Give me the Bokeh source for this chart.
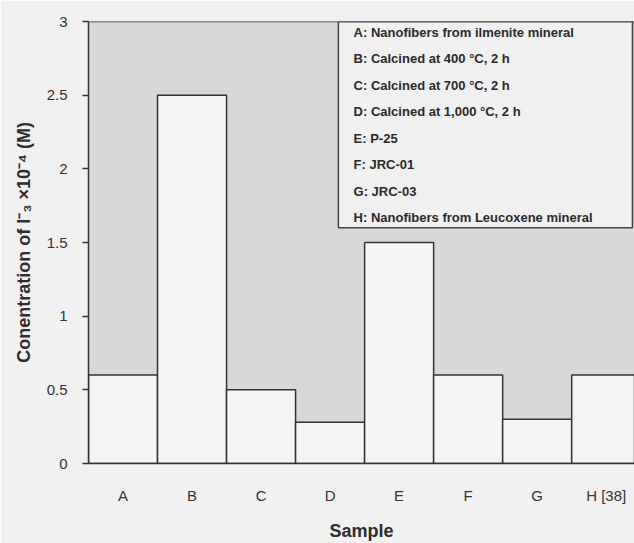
from bokeh.plotting import figure
from bokeh.models import (ColumnDataSource, FixedTicker, Range1d, Span)
from bokeh.core.properties import value
from bokeh.embed import file_html
from bokeh.resources import INLINE

categories = ["A", "B", "C", "D", "E", "F", "G", "H [38]"]
values = [0.6, 2.5, 0.5, 0.28, 1.5, 0.6, 0.3, 0.6]
y_ticks = [0, 0.5, 1, 1.5, 2, 2.5, 3]
y_tick_labels = ["0", "0.5", "1", "1.5", "2", "2.5", "3"]
legend_texts = [
    "A: Nanofibers from ilmenite mineral",
    "B: Calcined at 400 \u00b0C, 2 h",
    "C: Calcined at 700 \u00b0C, 2 h",
    "D: Calcined at 1,000 \u00b0C, 2 h",
    "E: P-25",
    "F: JRC-01",
    "G: JRC-03",
    "H: Nanofibers from Leucoxene mineral",
]

FONT = "Liberation Sans"
xs = list(range(len(categories)))

p = figure(width=634, height=543, output_backend="svg", toolbar_location=None,
           x_range=Range1d(-0.5, 7.41), y_range=Range1d(0, 3),
           min_border_left=88, min_border_right=0, min_border_top=21, min_border_bottom=78)
p.background_fill_color = "#d8d8d8"
p.border_fill_color = "#f1f1f1"
p.outline_line_color = None
p.xgrid.visible = False
p.ygrid.visible = False

src = ColumnDataSource(dict(x=xs, top=values))
p.vbar(x="x", top="top", width=1.0, bottom=0, source=src,
       fill_color="#f5f5f5", line_color="#333333", line_width=1.5)

p.add_layout(Span(location=3, dimension="width", line_color="#333333", line_width=1.5))

# legend box (drawn as glyph so text sits above it)
p.quad(left=[3.12], right=[7.38], bottom=[1.6], top=[3.0],
       fill_color="#f0f0f0", line_color="#444444", line_width=1.5)
ly = [2.926 - i * 0.1795 for i in range(len(legend_texts))]
lsrc = ColumnDataSource(dict(x=[3.34] * len(legend_texts), y=ly, t=legend_texts))
p.text(x="x", y="y", text="t", source=lsrc, text_font=value(FONT),
       text_font_style="bold", text_font_size="13px", text_color="#2a2a2a",
       text_baseline="middle", text_align="left")

# y axis
ya = p.yaxis[0]
ya.ticker = FixedTicker(ticks=y_ticks)
ya.major_label_overrides = {t: l for t, l in zip(y_ticks, y_tick_labels)}
ya.minor_tick_line_color = None
ya.major_tick_out = 6
ya.major_tick_in = 0
ya.major_label_standoff = 15
ya.axis_line_width = 1.5
ya.axis_line_color = "#333333"
ya.major_tick_line_color = "#333333"
ya.major_tick_line_width = 1.5
ya.major_label_text_font = FONT
ya.major_label_text_font_size = "15px"
ya.major_label_text_color = "#333333"
ya.axis_label = "Conentration of I\u207b\u2083 \u00d710\u207b\u2074 (M)"
ya.axis_label_text_font = FONT
ya.axis_label_text_font_style = "bold"
ya.axis_label_text_font_size = "18px"
ya.axis_label_text_color = "#2e2e2e"
ya.axis_label_standoff = 10

# x axis
xa = p.xaxis[0]
xa.ticker = FixedTicker(ticks=xs)
xa.major_label_overrides = {i: c for i, c in zip(xs, categories)}
xa.minor_tick_line_color = None
xa.major_tick_line_color = None
xa.major_tick_out = 0
xa.major_tick_in = 0
xa.major_label_standoff = 23
xa.axis_line_width = 1.5
xa.axis_line_color = "#333333"
xa.major_label_text_font = FONT
xa.major_label_text_font_size = "15px"
xa.major_label_text_color = "#333333"
xa.axis_label = "Sample"
xa.axis_label_text_font = FONT
xa.axis_label_text_font_style = "bold"
xa.axis_label_text_font_size = "18px"
xa.axis_label_text_color = "#2e2e2e"
xa.axis_label_standoff = 14

open("out.html", "w").write(file_html(p, INLINE))
